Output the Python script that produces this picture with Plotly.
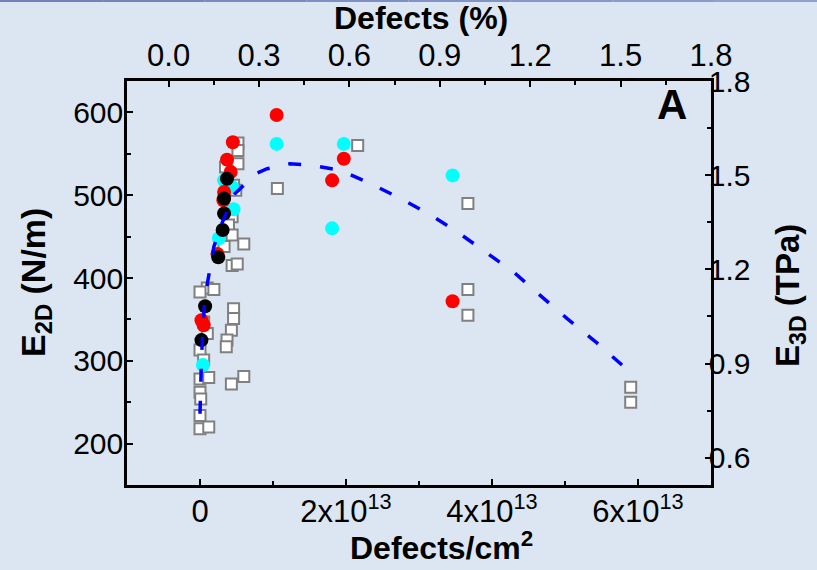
import plotly.graph_objects as go

# ---------------- data ----------------
# gray open squares (Defects/cm^2, E2D N/m)
sq_x = [0.52e13, 0.52e13, 0.52e13, 0.35e13, 0.49e13, 0.46e13, 0.44e13, 0.39e13, 0.44e13, 0.60e13,
        0.33e13, 0.44e13, 0.51e13, 0.10e13, 0.19e13, 0.0, 0.46e13, 0.46e13, 0.43e13, 0.37e13,
        0.36e13, 0.05e13, 0.10e13, 0.0, 0.05e13, 0.0, 0.12e13, 0.43e13, 0.60e13, 0.0,
        0.01e13, 0.0, 0.0, 0.12e13,
        1.06e13, 2.16e13, 3.67e13, 3.67e13, 3.67e13, 5.90e13, 5.90e13]
sq_y = [563, 554, 538, 534, 506, 512, 474, 464, 452, 441,
        438, 415, 417, 388, 386, 383, 363, 351, 337, 325,
        317, 347, 333, 313, 301, 278, 280, 272, 281, 262,
        254, 234, 218, 220,
        508, 560, 490, 386, 355, 268, 250]

red_x = [0.45e13, 0.37e13, 0.42e13, 0.33e13, 0.32e13, 0.24e13, 0.02e13, 0.05e13,
         1.05e13, 1.97e13, 1.81e13, 3.46e13]
red_y = [564, 543, 528, 504, 494, 429, 349, 343, 597, 544, 518, 372]

cyan_x = [0.33e13, 0.44e13, 0.46e13, 0.26e13, 0.04e13, 1.05e13, 1.97e13, 1.81e13, 3.46e13]
cyan_y = [518, 510, 483, 448, 295, 562, 562, 460, 524]

black_x = [0.37e13, 0.33e13, 0.33e13, 0.31e13, 0.25e13, 0.07e13, 0.02e13]
black_y = [520, 496, 478, 458, 425, 366, 325]

# dashed fit curve
fit_x = [0.0, 0.007e13, 0.02e13, 0.04e13, 0.066e13, 0.10e13, 0.19e13, 0.30e13, 0.48e13, 0.76e13,
         0.92e13, 1.23e13, 1.54e13, 1.92e13, 2.29e13, 2.75e13, 3.16e13, 3.52e13, 3.91e13, 4.30e13,
         4.66e13, 5.03e13, 5.42e13, 5.78e13, 5.87e13]
fit_y = [236, 268, 303, 338, 376, 393, 438, 466, 502, 526,
         532, 538, 536, 530, 516, 496, 476, 456, 431, 407,
         379, 351, 323, 295, 288]

bottom_ticks = [0, 2e13, 4e13, 6e13]
bottom_text = ["0", "2x10<sup>13</sup>", "4x10<sup>13</sup>", "6x10<sup>13</sup>"]
top_ticks = [0.0, 0.3, 0.6, 0.9, 1.2, 1.5, 1.8]
left_ticks = [200, 300, 400, 500, 600]
right_ticks = [0.6, 0.9, 1.2, 1.5, 1.8]

# ---------------- figure ----------------
BG = "#dce6f2"
FONT = "Liberation Sans, Arial, sans-serif"

fig = go.Figure()
fig.add_trace(go.Scatter(x=sq_x, y=sq_y, mode="markers",
                         marker=dict(symbol="square", size=11, color="white",
                                     line=dict(color="#808080", width=2))))
fig.add_trace(go.Scatter(x=cyan_x, y=cyan_y, mode="markers",
                         marker=dict(symbol="circle", size=14, color="#00ffff")))
fig.add_trace(go.Scatter(x=red_x, y=red_y, mode="markers",
                         marker=dict(symbol="circle", size=14, color="#ff0000")))
fig.add_trace(go.Scatter(x=black_x, y=black_y, mode="markers",
                         marker=dict(symbol="circle", size=14, color="#000000")))
fig.add_trace(go.Scatter(x=fit_x, y=fit_y, mode="lines",
                         line=dict(color="#0000ff", width=3.5, dash="13px,19px")))
# helpers so the top / right axes are drawn
fig.add_trace(go.Scatter(x=[0.5], y=[300], xaxis="x2", yaxis="y", mode="markers",
                         marker=dict(opacity=0), hoverinfo="skip"))
fig.add_trace(go.Scatter(x=[0], y=[1.0], xaxis="x", yaxis="y2", mode="markers",
                         marker=dict(opacity=0), hoverinfo="skip"))

axis_common = dict(showline=True, linecolor="black", linewidth=2.5, ticks="inside",
                   ticklen=6, tickwidth=2, tickcolor="black", showgrid=False,
                   zeroline=False)
minor_common = dict(ticks="inside", ticklen=4, tickwidth=2, tickcolor="black")

fig.update_layout(
    width=817, height=570,
    paper_bgcolor=BG, plot_bgcolor=BG,
    showlegend=False,
    margin=dict(l=127, r=106, t=81, b=85, autoexpand=False),
    xaxis=dict(range=[-1e13, 7e13], tickvals=bottom_ticks, ticktext=bottom_text,
               tickfont=dict(family=FONT, size=31, color="black"), ticklabelstandoff=-3,
               minor=dict(dtick=1e13, tick0=0, **minor_common),
               **axis_common),
    xaxis2=dict(range=[-0.138, 1.8], overlaying="x", side="top", tickvals=top_ticks,
                tickformat=".1f", tickfont=dict(family=FONT, size=31, color="black"),
                minor=dict(dtick=0.15, tick0=0, **minor_common),
                **axis_common),
    yaxis=dict(range=[150, 638], tickvals=left_ticks,
               tickfont=dict(family=FONT, size=30, color="black"), ticklabelstandoff=-5,
               minor=dict(dtick=50, tick0=0, **minor_common),
               **axis_common),
    yaxis2=dict(range=[0.513, 1.8], overlaying="y", side="right", tickvals=right_ticks,
                tickformat=".1f", tickfont=dict(family=FONT, size=30, color="black"),
                ticklabelstandoff=-11,
                minor=dict(dtick=0.15, tick0=0, **minor_common),
                **axis_common),
)

annots = [
    dict(text="<b>Defects (%)</b>", x=0.503, y=1.156, font=dict(family=FONT, size=32)),
    dict(text="<b>Defects/cm<sup>2</sup></b>", x=0.538, y=-0.152, font=dict(family=FONT, size=32)),
    dict(text="<b>E<sub>2D</sub> (N/m)</b>", x=-0.1575, y=0.50, textangle=-90,
         font=dict(family=FONT, size=34)),
    dict(text="<b>E<sub>3D</sub> (TPa)</b>", x=1.135, y=0.47, textangle=-90,
         font=dict(family=FONT, size=33)),
    dict(text="<b>A</b>", x=0.933, y=0.943, font=dict(family=FONT, size=42)),
]
for a in annots:
    a.update(xref="paper", yref="paper", showarrow=False, xanchor="center", yanchor="middle")
    a["font"]["color"] = "black"
    fig.add_annotation(**a)

# thin gradient strip at the very top of the page
strip_cols = ["#7282ba", "#7686bd", "#7a8ac0", "#7e8fc3", "#8293c6", "#8697c9", "#8a9bcc", "#8ea0cf"]
n = len(strip_cols)
for i, c in enumerate(strip_cols):
    fig.add_shape(type="rect", xref="paper", yref="paper",
                  x0=-127 / 584 + i * (817 / 584) / n,
                  x1=-127 / 584 + (i + 1) * (817 / 584) / n,
                  y0=(485 - 2) / 404, y1=(485 + 2) / 404, fillcolor=c, line=dict(width=0),
                  layer="above")

fig.write_html("out.html", config={"displayModeBar": False},
               post_script="document.body.style.margin='0';"
                           "document.body.style.background='" + BG + "';")
